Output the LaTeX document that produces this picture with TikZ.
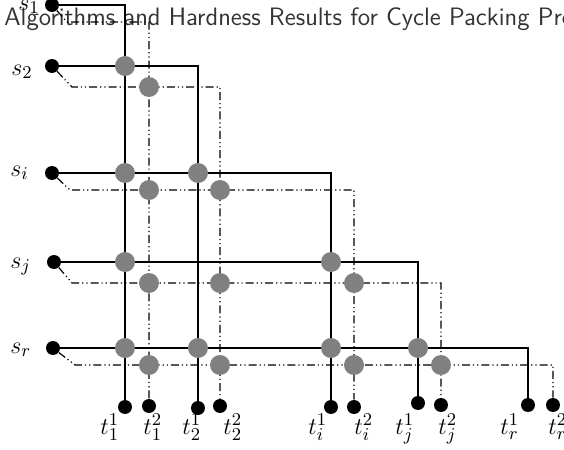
\documentclass[tikz,border=0pt]{standalone}
\begin{document}
\begin{tikzpicture}[x=0.5pt,y=-0.5pt,
  src/.style={circle,fill=black,inner sep=0pt,minimum size=7pt},
  xnode/.style={circle,fill=gray,inner sep=0pt,minimum size=10pt},
  lab/.style={inner sep=0pt,anchor=base west,font=\fontsize{13}{15}\selectfont},
  sol/.style={line width=0.6pt},
  dd/.style={line width=0.6pt,dash pattern=on 4pt off 1.5pt on 0.6pt off 1.5pt on 0.6pt off 1.5pt}]
\useasboundingbox (0,0) rectangle (564,450);
\clip (0,0) rectangle (564,450);
% title
\node[anchor=base west,inner sep=0pt,font=\sffamily\fontsize{12.6}{15}\selectfont,text=black!80] (title) at (4,25) {Algorithms and Hardness Results for Cycle Packing Problems};
% sources
\node[src] (s1) at (52,5) {};
\node[src] (s2) at (52,66) {};
\node[src] (si) at (52,173) {};
\node[src] (sj) at (54,262) {};
\node[src] (sr) at (53,348) {};
% sinks
\node[src] (t1a) at (125,407) {};
\node[src] (t1b) at (149,406) {};
\node[src] (t2a) at (198,408) {};
\node[src] (t2b) at (220,406) {};
\node[src] (tia) at (331,407) {};
\node[src] (tib) at (354,407) {};
\node[src] (tja) at (418,403) {};
\node[src] (tjb) at (441,405) {};
\node[src] (tra) at (528,405) {};
\node[src] (trb) at (553,405) {};
% bends of dash-dot paths
\coordinate (d1) at (67,22);
\coordinate (d2) at (72,87);
\coordinate (di) at (70,190);
\coordinate (dj) at (72,283);
\coordinate (dr) at (75,365);
% paths
\draw[sol] (s1) -| (t1a);
\draw[dd] (s1) -- (d1) -| (t1b);
\draw[sol] (s2) -| (t2a);
\draw[dd] (s2) -- (d2) -| (t2b);
\draw[sol] (si) -| (tia);
\draw[dd] (si) -- (di) -| (tib);
\draw[sol] (sj) -| (tja);
\draw[dd] (sj) -- (dj) -| (tjb);
\draw[sol] (sr) -| (tra);
\draw[dd] (sr) -- (dr) -| (trb);
% crossings
\node[xnode] (g2a) at (t1a |- s2) {};
\node[xnode] (g2b) at (t1b |- d2) {};
\node[xnode] (gia) at (t1a |- si) {};
\node[xnode] (gib) at (t2a |- si) {};
\node[xnode] (gic) at (t1b |- di) {};
\node[xnode] (gid) at (t2b |- di) {};
\node[xnode] (gja) at (t1a |- sj) {};
\node[xnode] (gjb) at (tia |- sj) {};
\node[xnode] (gjc) at (t1b |- dj) {};
\node[xnode] (gjd) at (t2b |- dj) {};
\node[xnode] (gje) at (tib |- dj) {};
\node[xnode] (gra) at (t1a |- sr) {};
\node[xnode] (grb) at (t2a |- sr) {};
\node[xnode] (grc) at (tia |- sr) {};
\node[xnode] (grd) at (tja |- sr) {};
\node[xnode] (gre) at (t1b |- dr) {};
\node[xnode] (grf) at (t2b |- dr) {};
\node[xnode] (grg) at (tib |- dr) {};
\node[xnode] (grh) at (tjb |- dr) {};
% labels
\node[lab] (ls1) at (18,10) {$s_1$};
\node[lab] (ls2) at (11,75) {$s_2$};
\node[lab] (lsi) at (10,176) {$s_i$};
\node[lab] (lsj) at (10,268) {$s_j$};
\node[lab] (lsr) at (10,353) {$s_r$};
\node[lab] (lt1a) at (100,434) {$t_1^1$};
\node[lab] (lt1b) at (143,434) {$t_1^2$};
\node[lab] (lt2a) at (182,434) {$t_2^1$};
\node[lab] (lt2b) at (223,434) {$t_2^2$};
\node[lab] (ltia) at (308,434) {$t_i^1$};
\node[lab] (ltib) at (354,434) {$t_i^2$};
\node[lab] (ltja) at (395,434) {$t_j^1$};
\node[lab] (ltjb) at (438,434) {$t_j^2$};
\node[lab] (ltra) at (500,434) {$t_r^1$};
\node[lab] (ltrb) at (548,434) {$t_r^2$};
\end{tikzpicture}
\end{document}
